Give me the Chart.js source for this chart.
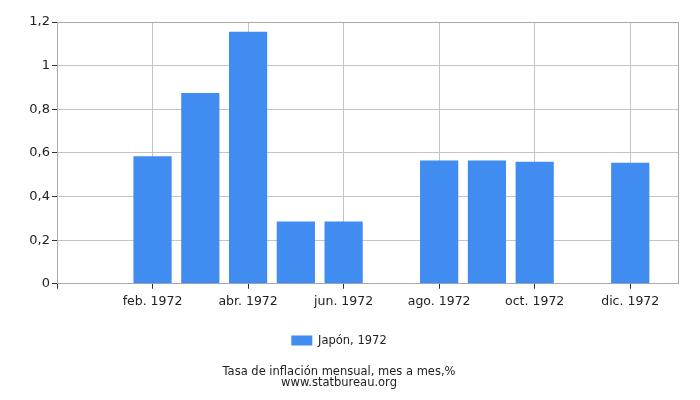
<!DOCTYPE html>
<html>
<head>
<meta charset="utf-8">
<script src="https://cdn.jsdelivr.net/npm/chart.js@4"></script>
<style>
  html, body { margin: 0; padding: 0; background: #fff; }
  #wrap { width: 700px; height: 400px; }
</style>
</head>
<body>
<div id="wrap"><canvas id="inflationChart"></canvas></div>
<script>
const months = ['ene. 1972', 'feb. 1972', 'mar. 1972', 'abr. 1972', 'may. 1972', 'jun. 1972',
                'jul. 1972', 'ago. 1972', 'sep. 1972', 'oct. 1972', 'nov. 1972', 'dic. 1972'];
const japan = [null, 0.585, 0.875, 1.155, 0.285, 0.285, null, 0.565, 0.565, 0.56, null, 0.555];
const yTicks = [0, 0.2, 0.4, 0.6, 0.8, 1, 1.2];

const gridGray = '#c4c4c4';
const textColor = '#222';

document.addEventListener('DOMContentLoaded', () => {
    const ctx = document.getElementById('inflationChart').getContext('2d');

    const points = months.map((m, i) => ({ x: i + 1, y: japan[i] }));

    new Chart(ctx, {
        type: 'bar',
        data: {
            datasets: [{
                label: 'Japón, 1972',
                data: points,
                backgroundColor: '#418cf0',
                borderWidth: 0,
                inflateAmount: 0,
                categoryPercentage: 0.8,
                barPercentage: 1
            }]
        },
        options: {
            responsive: true,
            maintainAspectRatio: false,
            animation: false,
            layout: { padding: { top: 22, right: 22, left: 0, bottom: 12 } },
            font: { family: 'DejaVu Sans' },
            scales: {
                x: {
                    type: 'linear',
                    min: 0,
                    max: 13,
                    offset: false,
                    afterBuildTicks: (scale) => {
                        scale.ticks = [];
                        for (let v = 0; v <= 13; v++) scale.ticks.push({ value: v });
                    },
                    ticks: {
                        autoSkip: false,
                        maxRotation: 0,
                        color: textColor,
                        font: { family: 'DejaVu Sans', size: 12.5 },
                        padding: 5,
                        callback: (v) => (v % 2 === 0 && v >= 2 && v <= 12) ? months[v - 1] : ''
                    },
                    grid: {
                        offset: false,
                        color: (c) => (c.tick && c.tick.value % 2 === 0 && c.tick.value <= 12) ? gridGray : 'rgba(0,0,0,0)',
                        tickColor: (c) => (c.tick && c.tick.value % 2 === 0 && c.tick.value <= 12) ? '#333' : 'rgba(0,0,0,0)',
                        tickLength: 5
                    },
                    border: { color: '#aaa' },
                    afterFit: (scale) => { scale.height = 41; }
                },
                y: {
                    min: 0,
                    max: 1.2,
                    afterBuildTicks: (scale) => {
                        scale.ticks = yTicks.map(v => ({ value: v }));
                    },
                    ticks: {
                        color: textColor,
                        font: { family: 'DejaVu Sans', size: 13 },
                        padding: 2,
                        callback: (v) => String(Math.round(v * 10) / 10).replace('.', ',')
                    },
                    grid: {
                        color: gridGray,
                        tickColor: '#333',
                        tickLength: 5
                    },
                    border: { color: '#aaa' },
                    afterFit: (scale) => { scale.width = 57; }
                }
            },
            plugins: {
                legend: {
                    position: 'bottom',
                    labels: {
                        color: textColor,
                        font: { family: 'DejaVu Sans', size: 11.5 },
                        boxWidth: 21,
                        boxHeight: 10,
                        padding: 10
                    }
                },
                title: {
                    display: true,
                    position: 'bottom',
                    text: ['Tasa de inflación mensual, mes a mes,%', 'www.statbureau.org'],
                    color: textColor,
                    font: { family: 'DejaVu Sans', size: 11.5, weight: 'normal', lineHeight: 0.9 },
                    padding: { top: 11, bottom: 0 }
                },
                tooltip: { enabled: false }
            }
        },
        plugins: [{
            id: 'rightBorder',
            afterDraw: (chart) => {
                const a = chart.chartArea;
                const c = chart.ctx;
                c.save();
                c.strokeStyle = '#aaa';
                c.lineWidth = 1;
                c.beginPath();
                c.moveTo(a.left, a.top + 0.5);
                c.lineTo(a.right + 0.5, a.top + 0.5);
                c.lineTo(a.right + 0.5, a.bottom);
                c.stroke();
                c.restore();
            }
        }]
    });
});
</script>
</body>
</html>
